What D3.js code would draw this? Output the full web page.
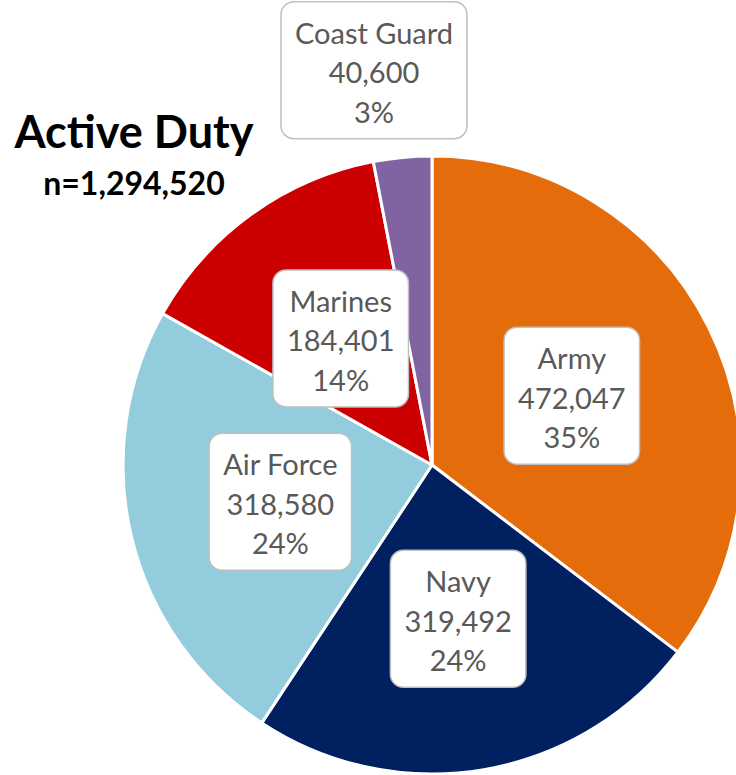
<!DOCTYPE html>
<html>
<head>
<meta charset="utf-8">
<script src="https://cdn.jsdelivr.net/npm/d3@7"></script>
<style>
  body { margin: 0; background: #fff; }
  svg { display: block; font-family: Lato, "Open Sans", sans-serif; }
</style>
</head>
<body>
<div id="chart"></div>
<script>
var branches = ["Army", "Navy", "Air Force", "Marines", "Coast Guard"];
var counts = [472047, 319492, 318580, 184401, 40600];
var colours = ["#E46C0A", "#002060", "#93CDDD", "#CC0000", "#8064A2"];
var title = "Active Duty";
var subtitle = "n=1,294,520";

var width = 736;
var height = 775;
var cx = 432, cy = 465, radius = 309;

var svg = d3.select("#chart")
            .append("svg")
            .attr("width", width)
            .attr("height", height);

var total = d3.sum(counts);
var fmt = d3.format(",");

var pie = d3.pie().sort(null).value(function(d) { return d; });
var arcs = pie(counts);

var arc = d3.arc().innerRadius(0).outerRadius(radius);

var g = svg.append("g").attr("transform", "translate(" + cx + "," + cy + ")");

g.selectAll("path")
 .data(arcs)
 .enter()
 .append("path")
 .attr("d", arc)
 .style("fill", function(d, i) { return colours[i]; })
 .style("stroke", "#fff")
 .style("stroke-width", 3)
 .style("stroke-linejoin", "round");

// labels: inside at half radius, small slices pushed outside
var lineH = 39.5;
arcs.forEach(function(d, i) {
  var share = d.value / total;
  var mid = (d.startAngle + d.endAngle) / 2;
  var r = share < 0.05 ? radius * 1.29 : radius * 0.505;
  var x = Math.sin(mid) * r;
  var y = -Math.cos(mid) * r;
  if (share < 0.05) { x -= 20; y += 2; }

  var lines = [branches[i], fmt(d.value), Math.round(share * 100) + "%"];
  var lg = g.append("g").attr("transform", "translate(" + x + "," + y + ")");
  var rect = lg.append("rect");
  var txt = lg.append("text")
              .attr("text-anchor", "middle")
              .style("font-size", "29px")
              .style("fill", "#595959");
  lines.forEach(function(t, k) {
    txt.append("tspan")
       .attr("x", 0)
       .attr("y", (k - 1) * lineH + 13)
       .text(t);
  });
  var w = txt.node().getBBox().width + 28;
  var h = 137;
  rect.attr("x", -w / 2)
      .attr("y", -h / 2)
      .attr("width", w)
      .attr("height", h)
      .attr("rx", 13)
      .attr("ry", 13)
      .style("fill", "#fff")
      .style("stroke", "#BFBFBF")
      .style("stroke-width", 1.5);
});

svg.append("text")
   .attr("x", 134)
   .attr("y", 148)
   .attr("text-anchor", "middle")
   .style("font-size", "45px")
   .style("font-weight", "bold")
   .style("fill", "#000")
   .text(title);

svg.append("text")
   .attr("x", 134)
   .attr("y", 195)
   .attr("text-anchor", "middle")
   .style("font-size", "32px")
   .style("font-weight", "bold")
   .style("fill", "#000")
   .text(subtitle);
</script>
</body>
</html>
